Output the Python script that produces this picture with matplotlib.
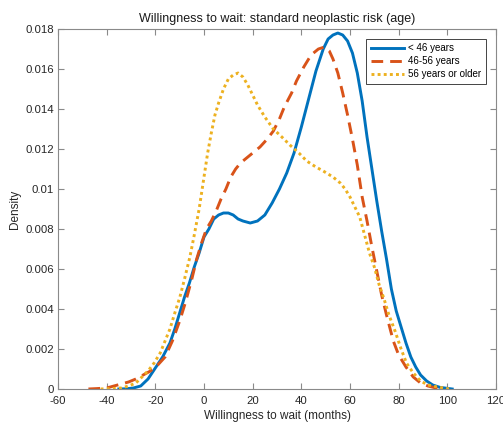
import numpy as np
import matplotlib
matplotlib.use('Agg')
from matplotlib import pyplot as plt

plt.rcParams['font.family'] = ['Liberation Sans', 'DejaVu Sans']
plt.rcParams['axes.unicode_minus'] = False

# density curves (months, density)
x_young = [-35, -32, -29, -26, -23, -20, -17, -14, -12, -10, -8, -6, -4, -2, 0, 2, 4, 6, 8, 10, 12,
           14, 16, 19, 22, 25, 28, 31, 34, 37, 40, 43, 46, 49, 51, 53, 55, 57, 59, 61, 63, 65, 67,
           69, 71, 73, 75, 77, 79, 81, 83, 85, 87, 89, 91.5, 94, 97, 102]
y_young = [0, 0.00001, 0.00005, 0.00015, 0.0005, 0.00105, 0.0016, 0.0023, 0.0030, 0.0038, 0.0046,
           0.0053, 0.0061, 0.0068, 0.0076, 0.0080, 0.0085, 0.0087, 0.0088, 0.0088, 0.0087, 0.0085,
           0.0084, 0.0083, 0.0084, 0.0087, 0.0093, 0.0100, 0.0108, 0.0118, 0.0131, 0.0145, 0.0159,
           0.0170, 0.0175, 0.0177, 0.0178, 0.0177, 0.0174, 0.0168, 0.0158, 0.0144, 0.0126, 0.0110,
           0.0094, 0.0079, 0.0065, 0.0050, 0.0039, 0.0031, 0.0023, 0.0016, 0.0011, 0.0007, 0.0004,
           0.0002, 0.00008, 0]

x_mid = [-47.5, -44, -40, -37, -34, -31, -28, -25, -22, -19, -16, -13, -10, -7.7, -5, -3, -1, 1, 3,
         5, 7, 9, 11, 13, 15, 17, 19, 21, 23, 26, 28.5, 31, 33, 36, 38, 41, 44, 47, 49.5, 51.5, 53,
         55, 57, 59, 61, 63, 65, 67, 69, 71, 73, 75, 77.8, 80, 83, 86, 89, 92, 97]
y_mid = [0, 0.00002, 0.00005, 0.00015, 0.00025, 0.00035, 0.0005, 0.0007, 0.0009, 0.0012, 0.0016,
         0.0024, 0.0034, 0.0043, 0.0055, 0.0065, 0.0073, 0.0080, 0.0084, 0.0089, 0.0095, 0.0100,
         0.0106, 0.0110, 0.0113, 0.0115, 0.0117, 0.0119, 0.0121, 0.0125, 0.0129, 0.0135, 0.0141,
         0.0148, 0.0154, 0.0161, 0.0167, 0.0170, 0.0171, 0.0169, 0.0165, 0.0158, 0.0148, 0.0137,
         0.0125, 0.0112, 0.0096, 0.0084, 0.0071, 0.0059, 0.0047, 0.0037, 0.0024, 0.0017, 0.0011,
         0.0006, 0.0003, 0.00015, 0]

x_old = [-42.5, -38, -34, -31, -28, -25.5, -23, -20.5, -18, -16, -14, -12, -9.9, -8, -5.8, -4, -2, 0,
         1.5, 3, 4.5, 6, 8, 10, 12, 14, 16, 18, 20, 22, 25, 28.5, 32, 35.3, 39, 42.2, 46, 49, 53, 56,
         58, 60, 62, 64, 66, 68, 70, 72, 74, 76, 78.5, 81, 83.2, 86, 89, 92, 96, 101]
y_old = [0, 0.00002, 0.00005, 0.00015, 0.0003, 0.0006, 0.0009, 0.0013, 0.0018, 0.0024, 0.0030,
         0.0038, 0.0046, 0.0055, 0.0066, 0.0077, 0.0090, 0.0106, 0.0118, 0.0128, 0.0137, 0.0143,
         0.0150, 0.0155, 0.0157, 0.0158, 0.0156, 0.0152, 0.0147, 0.0142, 0.0136, 0.0130, 0.0126,
         0.0122, 0.0118, 0.0114, 0.0111, 0.0109, 0.0106, 0.0103, 0.0100, 0.0096, 0.0091, 0.0086,
         0.0077, 0.0068, 0.0061, 0.0052, 0.0045, 0.0037, 0.0029, 0.0020, 0.0013, 0.0008, 0.0004,
         0.0002, 0.0001, 0]

labels = ['< 46 years', '46-56 years', '56 years or older']

fig = plt.figure(figsize=(5.03, 4.23), dpi=100)
ax = fig.add_axes([0.1153, 0.0804, 0.8708, 0.851])

ax.plot(x_young, y_young, color='#0072BD', lw=2.1, label=labels[0], solid_joinstyle='round')
ax.plot(x_mid, y_mid, color='#D95319', lw=2.1, dashes=(4, 2.4), dash_capstyle='butt', label=labels[1])
ax.plot(x_old, y_old, color='#EDB120', lw=2.1, dashes=(1, 1.1), dash_capstyle='butt', label=labels[2])

ax.set_xlim(-60, 120)
ax.set_ylim(0, 0.018)
ax.set_xticks(np.arange(-60, 121, 20))
ax.set_yticks(np.arange(0, 0.0181, 0.002))
ax.set_yticklabels(['0', '0.002', '0.004', '0.006', '0.008', '0.01', '0.012', '0.014', '0.016', '0.018'])

for s in ax.spines.values():
    s.set_color('#8a8a8a')
    s.set_linewidth(0.8)
ax.tick_params(direction='in', length=4, width=0.8, color='#8a8a8a', labelsize=8.2,
               labelcolor='#262626', top=True, right=True, pad=3)
ax.tick_params(axis='x', pad=5)

ax.set_title('Willingness to wait: standard neoplastic risk (age)', fontsize=9, color='#1a1a1a', pad=5)
ax.set_xlabel('Willingness to wait (months)', fontsize=8.5, color='#262626', labelpad=3)
ax.set_ylabel('Density', fontsize=8.5, color='#262626', labelpad=3)

leg = ax.legend(loc='upper right', bbox_to_anchor=(0.977, 0.972), fontsize=7, handlelength=3.4,
                fancybox=False, framealpha=1, edgecolor='#262626', borderpad=0.45,
                labelspacing=0.3, handletextpad=0.5, borderaxespad=0)
leg.get_frame().set_linewidth(0.6)

plt.savefig('out.png', dpi=100)
